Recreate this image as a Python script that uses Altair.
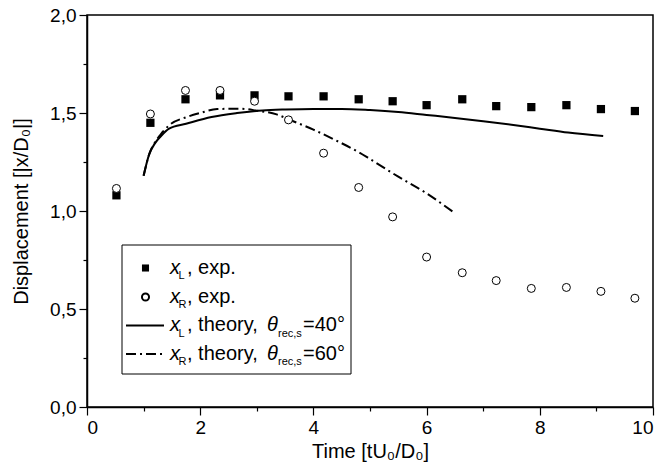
import altair as alt
import pandas as pd

# ---- data ----
t_exp = [0.52, 1.12, 1.74, 2.35, 2.96, 3.56, 4.18, 4.80, 5.40, 6.00, 6.63, 7.23, 7.85, 8.47, 9.08, 9.68]
xl_exp = [1.08, 1.45, 1.57, 1.59, 1.59, 1.585, 1.585, 1.57, 1.56, 1.54, 1.57, 1.535, 1.53, 1.54, 1.52, 1.51]
xr_exp = [1.115, 1.495, 1.615, 1.615, 1.56, 1.465, 1.295, 1.12, 0.97, 0.765, 0.685, 0.645, 0.605, 0.61, 0.59, 0.555]

t_th_l = [1.0, 1.1, 1.2, 1.3, 1.45, 1.75, 2.2, 2.65, 3.1, 3.5, 4.0, 4.5, 5.0, 5.5, 6.0, 6.5, 7.0, 7.5, 8.0, 8.5, 9.12]
xl_th = [1.18, 1.29, 1.345, 1.38, 1.42, 1.445, 1.48, 1.50, 1.513, 1.518, 1.521, 1.521, 1.515, 1.505, 1.49,
         1.475, 1.458, 1.44, 1.42, 1.40, 1.383]

t_th_r = [1.0, 1.1, 1.2, 1.3, 1.45, 1.75, 2.0, 2.3, 2.7, 3.0, 3.35, 3.6, 4.0, 4.4, 4.8, 5.0, 5.5, 6.0, 6.47]
xr_th = [1.18, 1.29, 1.35, 1.39, 1.437, 1.478, 1.50, 1.52, 1.522, 1.512, 1.493, 1.463, 1.415, 1.36, 1.30,
         1.265, 1.175, 1.09, 0.995]

x_ticks = list(range(0, 11))
y_ticks = [i * 0.25 for i in range(9)]

FONT = "Liberation Sans"
W, H = 566, 392

df_l = pd.DataFrame({"t": t_exp, "v": xl_exp})
df_r = pd.DataFrame({"t": t_exp, "v": xr_exp})
df_tl = pd.DataFrame({"t": t_th_l, "v": xl_th})
df_tr = pd.DataFrame({"t": t_th_r, "v": xr_th})

xscale = alt.Scale(domain=[0, 10], nice=False, zero=False)
yscale = alt.Scale(domain=[0, 2], nice=False, zero=False)

xaxis = alt.Axis(
    title="Time [tU\u2080/D\u2080]", values=x_ticks,
    labelExpr="datum.value % 2 == 0 ? datum.label : ''",
    tickSize={"condition": {"test": "datum.value % 2 == 1", "value": 4}, "value": 8},
    grid=False, titlePadding=4,
)
yaxis = alt.Axis(
    title="Displacement [|x/D\u2080|]", values=y_ticks,
    labelExpr="round(datum.value*4) % 2 == 0 ? replace(format(datum.value, '.1f'), '.', ',') : ''",
    tickSize={"condition": {"test": "round(datum.value*4) % 2 == 1", "value": 4}, "value": 8},
    grid=False, titlePadding=18,
)

base_x = alt.X("t:Q", scale=xscale, axis=xaxis)
base_y = alt.Y("v:Q", scale=yscale, axis=yaxis)

line_l = alt.Chart(df_tl).mark_line(color="black", strokeWidth=2, interpolate="monotone").encode(x=base_x, y=base_y)
line_r = alt.Chart(df_tr).mark_line(color="black", strokeWidth=2, strokeDash=[10, 4, 2, 4],
                                   interpolate="monotone").encode(x=base_x, y=base_y)
pts_l = alt.Chart(df_l).mark_point(shape="square", filled=True, color="black", size=68, opacity=1).encode(x=base_x, y=base_y)
pts_r = alt.Chart(df_r).mark_point(shape="circle", filled=False, color="black", fill="white", fillOpacity=1,
                                  size=64, strokeWidth=1, opacity=1).encode(x=base_x, y=base_y)

# ---- manual legend (pixel positions relative to plot area) ----
one = pd.DataFrame({"a": [0]})
leg = []
leg.append(alt.Chart(one).mark_rect(fill="white", stroke="black", strokeWidth=1).encode(
    x=alt.value(35), x2=alt.value(264), y=alt.value(230), y2=alt.value(359)))
rows = [253, 282, 310.5, 339]
leg.append(alt.Chart(one).mark_point(shape="square", filled=True, color="black", size=50, opacity=1).encode(
    x=alt.value(58.5), y=alt.value(rows[0])))
leg.append(alt.Chart(one).mark_point(shape="circle", filled=False, color="black", size=50, opacity=1).encode(
    x=alt.value(58.5), y=alt.value(rows[1])))
leg.append(alt.Chart(one).mark_rule(color="black", strokeWidth=2).encode(
    x=alt.value(39), x2=alt.value(77), y=alt.value(rows[2])))
leg.append(alt.Chart(one).mark_rule(color="black", strokeWidth=2, strokeDash=[10, 4, 2, 4]).encode(
    x=alt.value(39), x2=alt.value(77), y=alt.value(rows[3])))

def txt(s, x, y, size=20, italic=False):
    return alt.Chart(one).mark_text(text=s, font=FONT, fontSize=size, align="left", baseline="alphabetic",
                                    fontStyle="italic" if italic else "normal", color="black").encode(
        x=alt.value(x), y=alt.value(y))

subs = ["L", "R", "L", "R"]
rests = [", exp.", ", exp.", ", theory,", ", theory,"]
for i, r in enumerate(rows):
    leg.append(txt("x", 83, r + 5.5, 20, True))
    leg.append(txt(subs[i], 91.5, r + 11, 11))
    leg.append(txt(rests[i], 100, r + 5.5, 20))
for r, ang in [(rows[2], "=40\u00b0"), (rows[3], "=60\u00b0")]:
    leg.append(txt("\u03b8", 180, r + 5.5, 20, True))
    leg.append(txt("rec,s", 191, r + 11, 11))
    leg.append(txt(ang, 216, r + 5.5, 20))

chart = alt.layer(line_l, line_r, pts_l, pts_r, *leg).properties(
    width=W, height=H,
    autosize=alt.AutoSizeParams(type="none"),
    padding={"left": 87, "top": 15, "right": 11, "bottom": 65},
    background="white",
).configure_view(stroke="black", strokeWidth=1.5).configure_axis(
    domainColor="black", domainWidth=1.5, tickColor="black", tickWidth=1.2,
    labelFont=FONT, labelFontSize=19, labelColor="black", labelPadding=3,
    titleFont=FONT, titleFontSize=20, titleFontWeight="normal", titleColor="black",
)

chart.save("out.html", embed_options={"renderer": "svg", "actions": False})
